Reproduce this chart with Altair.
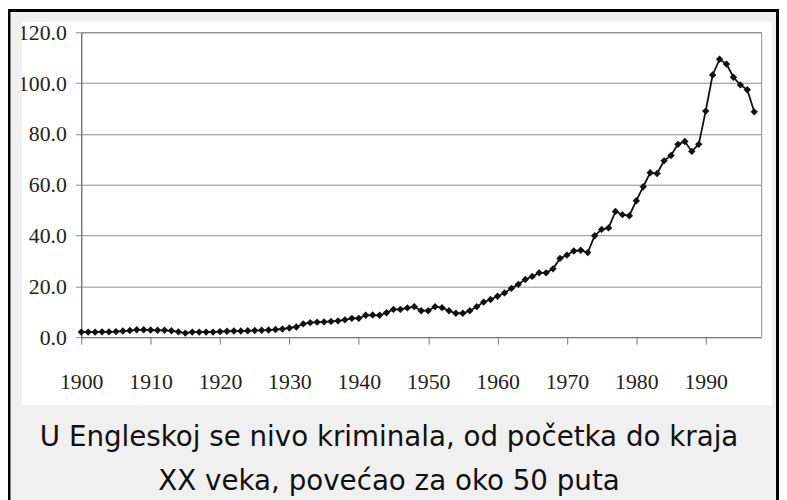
import altair as alt
import pandas as pd

years = list(range(1900, 1998))
crime_rate = [
    2.0, 2.0, 2.0, 2.1, 2.1, 2.2, 2.4, 2.6, 2.9, 2.9,
    2.8, 2.7, 2.7, 2.5, 2.1, 1.6, 2.0, 2.0, 2.0, 2.0,
    2.2, 2.3, 2.4, 2.4, 2.5, 2.6, 2.7, 2.8, 3.0, 3.2,
    3.6, 4.0, 5.2, 5.7, 5.9, 6.0, 6.2, 6.4, 6.8, 7.4,
    7.4, 8.6, 8.7, 8.6, 9.6, 10.9, 10.9, 11.5, 12.0, 10.4,
    10.4, 12.0, 11.6, 10.4, 9.4, 9.4, 10.4, 12.0, 13.8, 14.8,
    16.1, 17.4, 19.2, 20.8, 22.7, 23.9, 25.3, 25.3, 26.9, 31.0,
    32.3, 33.9, 34.2, 33.3, 39.9, 42.4, 43.0, 49.5, 48.2, 47.8,
    53.7, 59.2, 64.7, 64.4, 69.4, 71.5, 75.9, 77.0, 73.1, 75.9,
    89.0, 103.2, 109.4, 107.5, 102.3, 99.3, 97.4, 88.7,
]
x_ticks = [1900, 1910, 1920, 1930, 1940, 1950, 1960, 1970, 1980, 1990]
y_ticks = [0, 20, 40, 60, 80, 100, 120]
caption_lines = [
    "U Engleskoj se nivo kriminala, od početka do kraja",
    "XX veka, povećao za oko 50 puta",
]

df = pd.DataFrame({"year": years, "rate": crime_rate})
one = pd.DataFrame({"k": [0]})

W, H = 687, 308
SERIF = "Liberation Serif"
GRAY_BG = "#f0f0f0"


def band(x, x2, y, y2):
    return alt.Chart(one).mark_rect(fill=GRAY_BG, strokeWidth=0).encode(
        x=alt.value(x), x2=alt.value(x2), y=alt.value(y), y2=alt.value(y2)
    )


top_band = band(-74, 705, -22, -11)
left_band = band(-74, -60, -22, 480)
right_band = band(698, 705, -22, 480)
bottom_band = band(-74, 705, 377, 480)

frame = alt.Chart(one).mark_rect(
    fillOpacity=0, stroke="black", strokeWidth=3
).encode(
    x=alt.value(-73), x2=alt.value(703.5), y=alt.value(-22), y2=alt.value(490)
)

line = alt.Chart(df).mark_line(
    color="#111111",
    strokeWidth=1.8,
    point=alt.OverlayMarkDef(shape="diamond", size=55, color="#111111", filled=True),
).encode(
    x=alt.X(
        "year:Q",
        scale=alt.Scale(domain=[1900, 1998], nice=False, zero=False),
        axis=alt.Axis(
            values=x_ticks, format="d", title=None, grid=False,
            domainColor="#777777", tickColor="#777777", tickSize=7,
            labelFont=SERIF, labelFontSize=22, labelColor="#222222",
            labelPadding=28, labelFlush=False,
        ),
    ),
    y=alt.Y(
        "rate:Q",
        scale=alt.Scale(domain=[0, 120], nice=False),
        axis=alt.Axis(
            values=y_ticks, format=".1f", title=None, grid=True,
            gridColor="#8c8c8c", gridWidth=1,
            domainColor="#666666", tickColor="#8c8c8c", tickSize=6,
            labelFont=SERIF, labelFontSize=22, labelColor="#222222",
            labelPadding=9,
        ),
    ),
)

caption = alt.Chart(one).mark_text(
    text=caption_lines,
    font="DejaVu Sans",
    fontSize=28,
    lineHeight=44,
    align="center",
    baseline="middle",
    color="#111111",
).encode(x=alt.value(311), y=alt.value(410))

chart = alt.layer(
    top_band, left_band, right_band, bottom_band, frame, line, caption
).properties(
    width=W,
    height=H,
    padding={"left": 74, "top": 22, "right": 18, "bottom": 162},
    autosize="none",
    background="white",
).configure_view(stroke="#8c8c8c", strokeWidth=1, fill="white")

chart.save("out.html", embed_options={"renderer": "svg", "actions": False})
